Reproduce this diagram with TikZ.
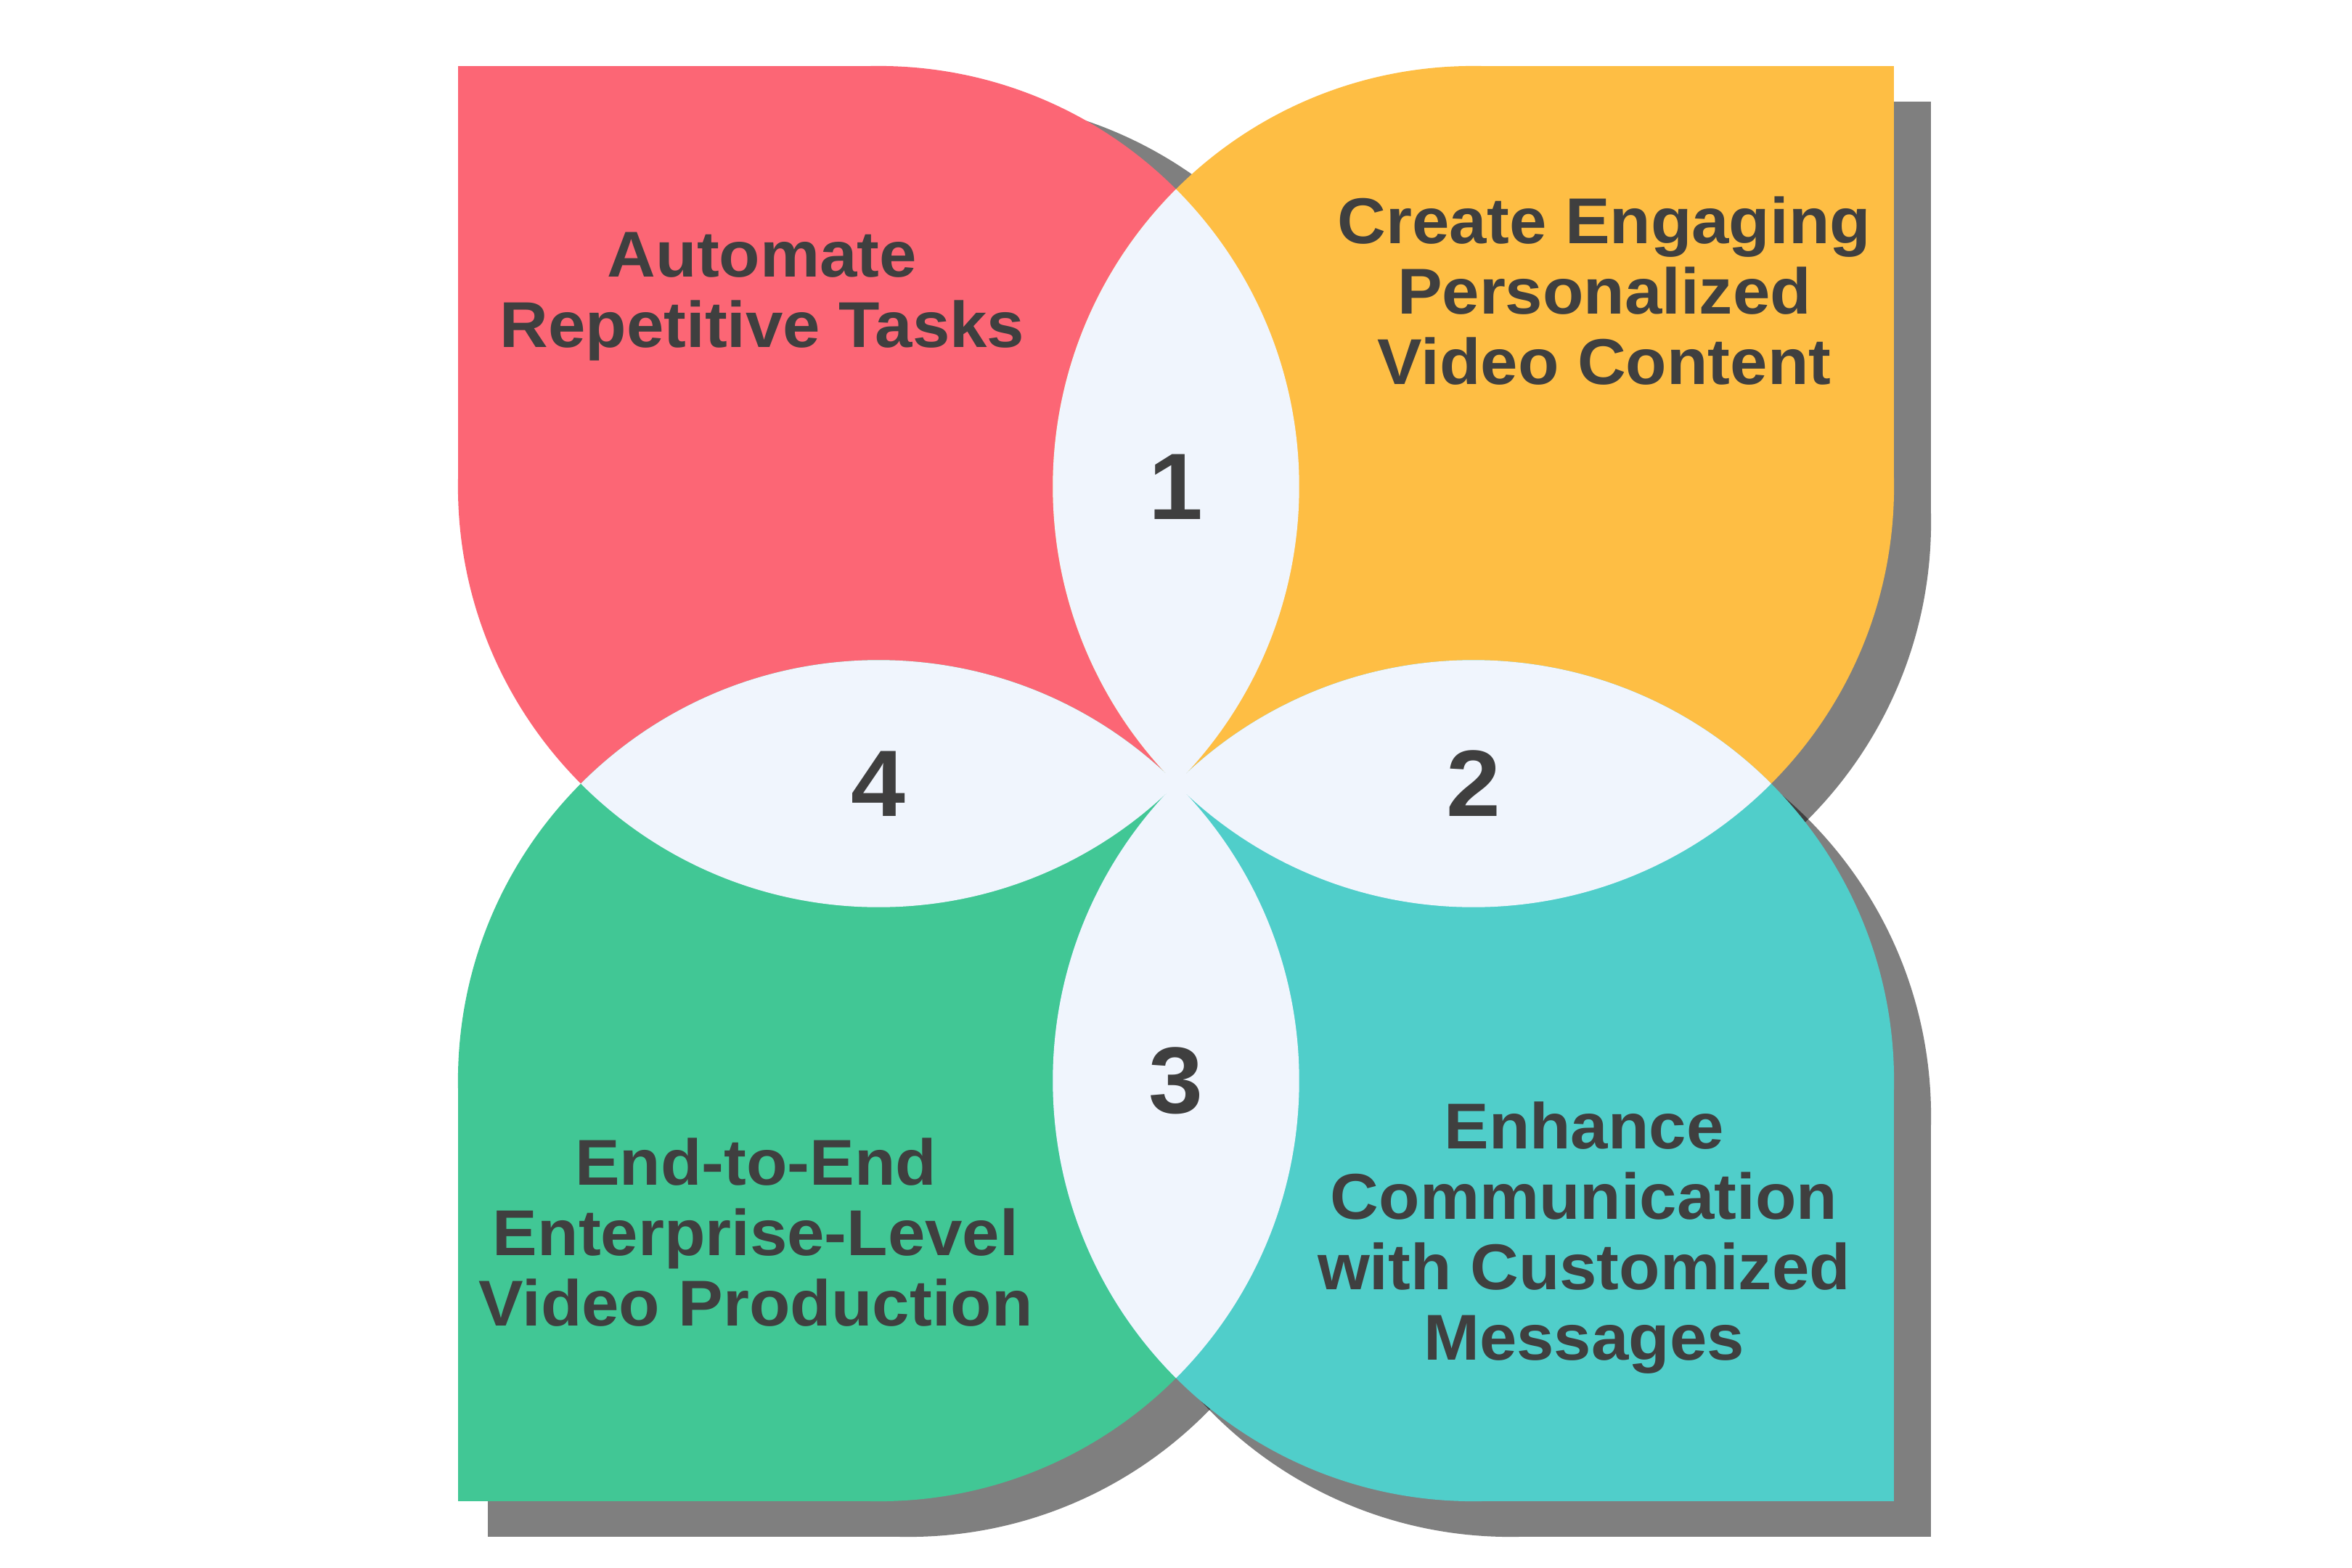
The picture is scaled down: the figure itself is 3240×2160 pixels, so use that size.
\documentclass[tikz,border=0pt]{standalone}
\usepackage{fontspec}
\setmainfont{Liberation Sans}[FakeStretch=1.035]
\definecolor{cRed}{HTML}{FC6675}
\definecolor{cOrange}{HTML}{FEBE44}
\definecolor{cGreen}{HTML}{41C795}
\definecolor{cTeal}{HTML}{50CECA}
\definecolor{cLens}{HTML}{F0F5FD}
\definecolor{cText}{HTML}{3F3F3F}
\definecolor{cShadow}{HTML}{7F7F7F}
\definecolor{cShadowDark}{HTML}{404040}
\begin{document}
\begin{tikzpicture}[x=0.1mm,y=-0.1mm,
  txt/.style={font=\bfseries\fontsize{25.4}{27.6}\selectfont, text=cText, align=center, inner sep=0pt},
  numtxt/.style={font=\bfseries\fontsize{37}{40}\selectfont, text=cText, inner sep=0pt}]
\def\R{579.4}
\useasboundingbox (0,0) rectangle (3240,2160);
\fill[white] (0,0) rectangle (3240,2160);
% circle centres
\coordinate (cR) at (1210.3,670.3);
\coordinate (cO) at (2029.7,670.3);
\coordinate (cG) at (1210.3,1488.7);
\coordinate (cT) at (2029.7,1488.7);
% shadow centres
\coordinate (sR) at (1310.3,715.3);
\coordinate (sO) at (2080.7,719.3);
\coordinate (sG) at (1251.3,1537.7);
\coordinate (sT) at (2080.7,1537.7);
% shadows
\fill[cShadow] (731,136) rectangle (sR);
\fill[cShadow] (sR) circle[radius=\R];
\fill[cShadow] (2660,140) rectangle (sO);
\fill[cShadow] (sO) circle[radius=\R];
\fill[cShadow] (672,2117) rectangle (sG);
\fill[cShadow] (sG) circle[radius=\R];
\fill[cShadow] (2660,2117) rectangle (sT);
\fill[cShadow] (sT) circle[radius=\R];
\begin{scope}
  \clip (sO) circle[radius=\R];
  \fill[cShadowDark] (sT) circle[radius=\R];
\end{scope}
\begin{scope}
  \clip (sG) circle[radius=\R];
  \fill[cShadowDark] (sT) circle[radius=\R];
\end{scope}
% shapes
\fill[cRed] (631,91) rectangle (cR);
\fill[cRed] (cR) circle[radius=\R];
\fill[cOrange] (2609,91) rectangle (cO);
\fill[cOrange] (cO) circle[radius=\R];
\fill[cGreen] (631,2068) rectangle (cG);
\fill[cGreen] (cG) circle[radius=\R];
\fill[cTeal] (2609,2068) rectangle (cT);
\fill[cTeal] (cT) circle[radius=\R];
% lenses
\begin{scope}
  \clip (cR) circle[radius=\R];
  \fill[cLens] (cO) circle[radius=\R];
\end{scope}
\begin{scope}
  \clip (cO) circle[radius=\R];
  \fill[cLens] (cT) circle[radius=\R];
\end{scope}
\begin{scope}
  \clip (cG) circle[radius=\R];
  \fill[cLens] (cT) circle[radius=\R];
\end{scope}
\begin{scope}
  \clip (cR) circle[radius=\R];
  \fill[cLens] (cG) circle[radius=\R];
\end{scope}
% texts
\node[txt] (t1) at (1050,409) {Automate\\Repetitive Tasks};
\node[txt] (t2) at (2210,401) {Create Engaging\\Personalized\\Video Content};
\node[txt] (t3) at (1041,1698) {End-to-End\\Enterprise-Level\\Video Production};
\node[txt] (t4) at (2182,1705) {Enhance\\Communication\\with Customized\\Messages};
% numbers
\node[numtxt] (n1) at (1620,670.3) {1};
\node[numtxt] (n2) at (2029.7,1079.5) {2};
\node[numtxt] (n3) at (1620,1488.7) {3};
\node[numtxt] (n4) at (1210.3,1079.5) {4};
\end{tikzpicture}
\end{document}
